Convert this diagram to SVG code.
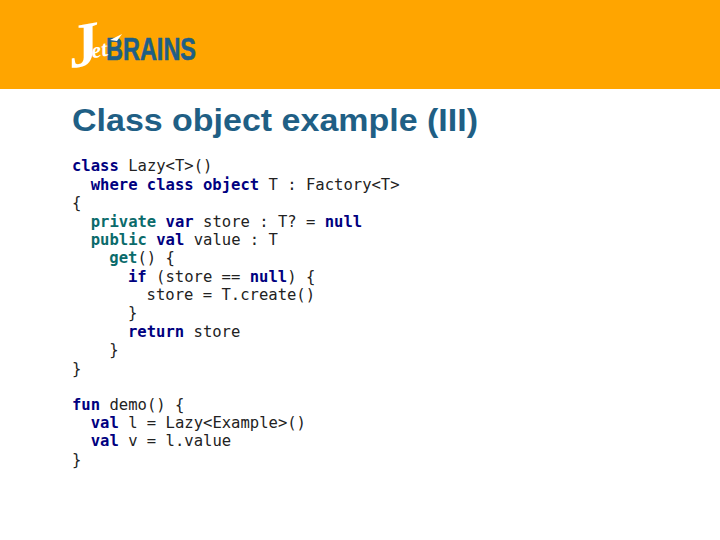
<svg xmlns="http://www.w3.org/2000/svg" width="720" height="540" viewBox="0 0 720 540">
<style>
.c{font-family:"DejaVu Sans Mono","Liberation Mono",monospace;font-size:15.55px;fill:#222}
.k{font-weight:bold;fill:#000080}
.m{font-weight:bold;fill:#0b6b6b}
</style>
<rect width="720" height="540" fill="#fff"/>
<rect id="band" width="720" height="89" fill="#ffa500"/>
<g id="logo">
<text x="106" y="60" font-family="'Liberation Sans',sans-serif" font-weight="bold" font-size="32" fill="#1f5f85" stroke="#1f5f85" stroke-width="0.6" textLength="90" lengthAdjust="spacingAndGlyphs">BRAINS</text>
<text transform="translate(72 68) rotate(-10)" font-family="'Liberation Serif',serif" font-style="italic" font-weight="bold" fill="#fff"><tspan font-size="62">J</tspan><tspan font-size="22" dx="-9" dy="-6">et</tspan></text>
<path d="M110 40 L122 34 L117 41 Z" fill="#fff"/>
</g>
<text id="title" x="72" y="131" font-family="'Liberation Sans',sans-serif" font-weight="bold" font-size="32" fill="#1f5f85" textLength="406" lengthAdjust="spacingAndGlyphs">Class object example (III)</text>
<g id="code" class="c">
<text x="72" y="170.5"><tspan class="k">class</tspan> Lazy&lt;T&gt;()</text>
<text x="90.7" y="189.5"><tspan class="k">where class object</tspan> T : Factory&lt;T&gt;</text>
<text x="72" y="207.5">{</text>
<text x="90.7" y="226.5"><tspan class="m">private</tspan> <tspan class="k">var</tspan> store : T? = <tspan class="k">null</tspan></text>
<text x="90.7" y="244.5"><tspan class="m">public</tspan> <tspan class="k">val</tspan> value : T</text>
<text x="109.3" y="263"><tspan class="m">get</tspan>() {</text>
<text x="128" y="281.5"><tspan class="k">if</tspan> (store == <tspan class="k">null</tspan>) {</text>
<text x="146.6" y="300">store = T.create()</text>
<text x="128" y="318">}</text>
<text x="128" y="337"><tspan class="k">return</tspan> store</text>
<text x="109.3" y="355">}</text>
<text x="72" y="374">}</text>
<text x="72" y="409.5"><tspan class="k">fun</tspan> demo() {</text>
<text x="90.7" y="428"><tspan class="k">val</tspan> l = Lazy&lt;Example&gt;()</text>
<text x="90.7" y="446"><tspan class="k">val</tspan> v = l.value</text>
<text x="72" y="465">}</text>
</g>
</svg>
